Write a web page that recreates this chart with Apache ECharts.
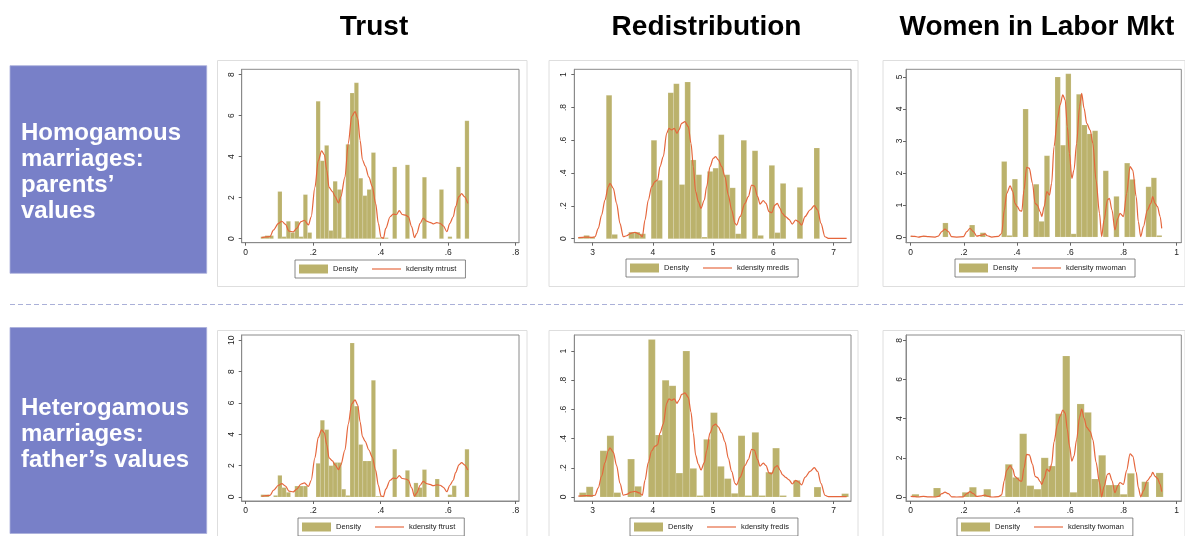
<!DOCTYPE html>
<html><head><meta charset="utf-8">
<script src="https://cdn.jsdelivr.net/npm/echarts@6/dist/echarts.min.js"></script>
<style>html,body{margin:0;padding:0;background:#fff}#c{width:1185px;height:536px}</style>
</head><body><div id="c"></div>
<script>
// ---------------- DATA ----------------
const columnTitles = ['Trust', 'Redistribution', 'Women in Labor Mkt'];
const rowLabels = ['Homogamous\nmarriages:\nparents\u2019\nvalues', 'Heterogamous\nmarriages:\nfather\u2019s values'];

const trustXTicks = [0, 0.2, 0.4, 0.6, 0.8];
const redisXTicks = [3, 4, 5, 6, 7];
const womanXTicks = [0, 0.2, 0.4, 0.6, 0.8, 1];
const mtrustYTicks = [0, 2, 4, 6, 8];
const ftrustYTicks = [0, 2, 4, 6, 8, 10];
const redisYTicks = [0, 0.2, 0.4, 0.6, 0.8, 1];
const mwomanYTicks = [0, 1, 2, 3, 4, 5];
const fwomanYTicks = [0, 2, 4, 6, 8];

// histogram bins: first bin edge, bin width, bar heights (density)
const trustBinStart = 0.0446, trustBinWidth = 0.0126;
const mtrustDensity = [0.1,0.15,0.15,0,2.3,0.1,0.85,0.3,0.85,0.1,2.15,0.3,0,6.7,3.8,4.55,0.4,2.8,2.4,0.05,4.6,7.1,7.6,2.95,2.1,2.4,4.2,0.05,0.05,0.05,0,3.5,0,0,3.6,0,0,0,3.0,0,0,0,2.4,0,0.1,0,3.5,0,5.75];
const ftrustDensity = [0.15,0.15,0,0.1,1.38,0.6,0.3,0,0.7,0.7,0.7,0,0,2.15,4.9,4.3,2.0,2.2,2.2,0.5,0.1,9.83,5.8,3.35,2.3,2.3,7.45,0.05,0.05,0,0,3.05,0,0,1.7,0,0.9,0.6,1.75,0,0,1.15,0,0,0.15,0.72,0,0,3.05];

const mredisBinStart = 2.76, mredisBinWidth = 0.0932;
const mredisDensity = [0.01,0.02,0.01,0,0,0.874,0.026,0,0,0.04,0.04,0.03,0,0.6,0.356,0,0.89,0.945,0.33,0.955,0.48,0.39,0.01,0.41,0.43,0.634,0.39,0.31,0.03,0.6,0,0.536,0.02,0,0.447,0.037,0.337,0,0,0.313,0,0,0.553,0,0,0,0,0];
const fredisBinStart = 2.779, fredisBinWidth = 0.1146;
const fredisDensity = [0.03,0.07,0,0.317,0.42,0.03,0,0.26,0.073,0,1.08,0.425,0.8,0.762,0.164,1.0,0.196,0.01,0.395,0.578,0.21,0.126,0.025,0.42,0.01,0.443,0.01,0.17,0.335,0.01,0,0.114,0,0,0.068,0,0,0,0.023];

const mwomanBinStart = 0, mwomanBinWidth = 0.0201;
const mwomanDensity = [0.03,0,0.03,0,0,0,0.44,0,0,0,0,0.375,0,0.135,0,0,0,2.36,0.05,1.81,0,4.0,0,1.65,0.49,2.54,0,5.0,2.87,5.1,0.1,4.46,3.5,3.22,3.32,0,2.07,0,1.27,0,2.31,1.8,0,0,1.57,1.85,0.05];
const fwomanBinStart = 0.0045, fwomanBinWidth = 0.027;
const fwomanDensity = [0.14,0,0,0.46,0,0,0,0.24,0.5,0,0.4,0,0.03,1.67,1.0,3.23,0.58,0.4,2.0,1.58,4.25,7.2,0.24,4.75,4.32,0.92,2.13,0.61,0.61,0.14,1.21,0,0.78,0,1.23];

// kernel density curves [x, density]
const kdensityTrust = [[0.047,0.05],[0.072,0.1],[0.082,0.42],[0.097,0.75],[0.107,0.85],[0.118,0.7],[0.128,0.37],[0.141,0.33],[0.151,0.5],[0.164,0.83],[0.174,0.9],[0.186,0.67],[0.194,1.07],[0.205,2.5],[0.215,3.8],[0.225,4.28],[0.233,4.1],[0.240,3.35],[0.247,2.5],[0.257,2.3],[0.265,2.05],[0.275,1.75],[0.282,2.05],[0.294,3.0],[0.304,4.65],[0.314,5.95],[0.324,6.2],[0.332,5.87],[0.339,4.8],[0.346,3.85],[0.354,3.55],[0.365,3.0],[0.375,2.55],[0.385,1.72],[0.393,0.75],[0.401,0.07],[0.408,0.02],[0.415,0.5],[0.428,1.07],[0.437,1.2],[0.447,1.18],[0.455,1.37],[0.464,1.18],[0.474,1.15],[0.482,1.07],[0.492,0.58],[0.5,0.05],[0.507,0.26],[0.517,0.75],[0.526,1.0],[0.536,0.86],[0.546,0.8],[0.556,0.72],[0.566,0.78],[0.576,0.75],[0.586,0.62],[0.596,0.34],[0.605,0.75],[0.615,1.07],[0.622,1.56],[0.632,2.05],[0.64,2.2],[0.648,2.05],[0.658,1.72]];
const kdensityRedis = [[2.762,0.006],[2.873,0.01],[2.983,0.008],[3.039,0.012],[3.094,0.063],[3.149,0.144],[3.205,0.236],[3.26,0.317],[3.288,0.337],[3.343,0.307],[3.398,0.215],[3.454,0.093],[3.509,0.012],[3.564,0.018],[3.636,0.033],[3.703,0.039],[3.775,0.028],[3.825,0.012],[3.869,0.114],[3.924,0.236],[3.98,0.317],[4.035,0.348],[4.079,0.358],[4.118,0.439],[4.173,0.5],[4.229,0.642],[4.267,0.673],[4.312,0.663],[4.356,0.673],[4.4,0.642],[4.433,0.663],[4.478,0.703],[4.533,0.713],[4.588,0.683],[4.633,0.581],[4.671,0.439],[4.71,0.287],[4.754,0.226],[4.799,0.185],[4.854,0.236],[4.893,0.317],[4.948,0.439],[5.003,0.49],[5.042,0.5],[5.086,0.48],[5.142,0.439],[5.197,0.378],[5.252,0.266],[5.308,0.175],[5.363,0.093],[5.39,0.083],[5.446,0.134],[5.529,0.215],[5.584,0.256],[5.64,0.327],[5.684,0.321],[5.739,0.256],[5.778,0.211],[5.833,0.232],[5.878,0.215],[5.928,0.165],[5.972,0.159],[6.027,0.205],[6.066,0.215],[6.11,0.185],[6.149,0.154],[6.204,0.134],[6.26,0.118],[6.315,0.089],[6.37,0.114],[6.415,0.104],[6.47,0.083],[6.525,0.134],[6.608,0.175],[6.68,0.201],[6.735,0.175],[6.79,0.093],[6.857,0.012],[6.913,0.002],[7.079,0.002],[7.217,0.002]];
const kdensityWoman = [[0,0.03],[0.016,0.02],[0.029,0.0],[0.048,0.03],[0.067,0.01],[0.092,0.0],[0.104,0.03],[0.117,0.17],[0.129,0.25],[0.142,0.17],[0.154,0.01],[0.173,0.0],[0.198,0.01],[0.211,0.17],[0.223,0.27],[0.236,0.17],[0.248,0.03],[0.267,0.06],[0.28,0.1],[0.288,0.04],[0.305,0.0],[0.33,0.02],[0.342,0.11],[0.352,0.84],[0.361,1.36],[0.374,1.6],[0.384,1.42],[0.392,1.05],[0.401,0.95],[0.411,0.82],[0.418,0.81],[0.426,1.47],[0.436,2.18],[0.446,2.15],[0.458,1.68],[0.468,1.05],[0.476,1.0],[0.487,0.79],[0.493,0.64],[0.502,0.95],[0.512,1.42],[0.522,1.31],[0.53,1.68],[0.539,2.82],[0.552,3.71],[0.562,4.13],[0.572,4.44],[0.581,4.28],[0.589,3.45],[0.597,2.61],[0.606,1.83],[0.614,2.09],[0.624,2.93],[0.635,4.07],[0.643,4.49],[0.652,4.02],[0.662,3.55],[0.675,3.34],[0.685,2.93],[0.697,1.78],[0.71,0.74],[0.718,0.01],[0.727,0.53],[0.74,1.16],[0.747,1.21],[0.757,0.84],[0.768,0.22],[0.779,0.58],[0.787,0.74],[0.8,0.64],[0.812,1.36],[0.825,2.2],[0.835,2.09],[0.848,1.26],[0.856,0.48],[0.865,0.01],[0.875,0.32],[0.89,0.84],[0.903,1.05],[0.91,1.26],[0.919,1.05],[0.928,0.95],[0.938,0.64],[0.944,0.27]];

// ---------------- LAYOUT / STYLE ----------------
const FONT = 'Liberation Sans, Arial, Helvetica, sans-serif';
const BAR = '#bbb26c';
const LINE = '#e5663c';
const AXIS = '#8a8a8a';
const LINE_ICON = 'path://M0,0L100,0L100,4L0,4Z';

function bins(start, w, heights) {
  return heights.map((h, j) => [start + j * w, start + (j + 1) * w, h]);
}
const panels = [
  {hist: bins(trustBinStart, trustBinWidth, mtrustDensity), kd: kdensityTrust, kdName: 'kdensity mtrust', xt: trustXTicks, yt: mtrustYTicks,
   grid: [241.7, 69.3, 277.3, 173.4], xr: [-0.0119, 0.8099], yr: [-0.195, 8.26], lg: [295, 260], ym: 6},
  {hist: bins(mredisBinStart, mredisBinWidth, mredisDensity), kd: kdensityRedis, kdName: 'kdensity mredis', xt: redisXTicks, yt: redisYTicks,
   grid: [574.3, 69.3, 276.7, 173.4], xr: [2.6956, 7.289], yr: [-0.0244, 1.0325], lg: [626, 259], ym: 6},
  {hist: bins(mwomanBinStart, mwomanBinWidth, mwomanDensity), kd: kdensityWoman, kdName: 'kdensity mwoman', xt: womanXTicks, yt: mwomanYTicks,
   grid: [906, 69.3, 275.3, 173.4], xr: [-0.0176, 1.0176], yr: [-0.177, 5.24], lg: [955, 259], ym: 2},
  {hist: bins(trustBinStart, trustBinWidth, ftrustDensity), kd: kdensityTrust, kdName: 'kdensity ftrust', xt: trustXTicks, yt: ftrustYTicks,
   grid: [241.7, 335, 277.3, 166], xr: [-0.0119, 0.8099], yr: [-0.255, 10.34], lg: [298, 518], ym: 6},
  {hist: bins(fredisBinStart, fredisBinWidth, fredisDensity), kd: kdensityRedis, kdName: 'kdensity fredis', xt: redisXTicks, yt: redisYTicks,
   grid: [574.3, 335, 276.7, 166], xr: [2.6956, 7.289], yr: [-0.0274, 1.11], lg: [630, 518], ym: 6},
  {hist: bins(fwomanBinStart, fwomanBinWidth, fwomanDensity), kd: kdensityWoman, kdName: 'kdensity fwoman', xt: womanXTicks, yt: fwomanYTicks,
   grid: [906, 335, 275.3, 166], xr: [-0.0176, 1.0176], yr: [-0.204, 8.27], lg: [957, 518], ym: 2}
];

function fmt(v) {
  if (v === 0) return '0';
  return String(+v.toFixed(3)).replace(/^0\./, '.');
}

const grids = [], xAxes = [], yAxes = [], series = [], legends = [];
panels.forEach((p, i) => {
  grids.push({left: p.grid[0], top: p.grid[1], width: p.grid[2], height: p.grid[3], show: true,
    borderColor: AXIS, borderWidth: 1, backgroundColor: '#fff', containLabel: false});
  xAxes.push({type: 'value', gridIndex: i, min: p.xr[0], max: p.xr[1],
    axisLine: {show: true, onZero: false, lineStyle: {color: AXIS, width: 1}},
    axisTick: {show: true, length: 3, customValues: p.xt, lineStyle: {color: '#666'}},
    axisLabel: {customValues: p.xt, formatter: fmt, fontSize: 8.5, color: '#222', margin: 5, fontFamily: FONT},
    splitLine: {show: false}});
  yAxes.push({type: 'value', gridIndex: i, min: p.yr[0], max: p.yr[1],
    axisLine: {show: true, onZero: false, lineStyle: {color: AXIS, width: 1}},
    axisTick: {show: true, length: 3, customValues: p.yt, lineStyle: {color: '#666'}},
    axisLabel: {customValues: p.yt, formatter: fmt, fontSize: 8.5, color: '#222', margin: p.ym, rotate: 90, fontFamily: FONT},
    splitLine: {show: false}});
  series.push({type: 'custom', name: 'Density', xAxisIndex: i, yAxisIndex: i, data: p.hist,
    encode: {x: [0, 1], y: 2}, itemStyle: {color: BAR}, z: 2, silent: true,
    renderItem: function (params, api) {
      const h = api.value(2);
      if (!(h > 0)) return null;
      const a = api.coord([api.value(0), 0]);
      const b = api.coord([api.value(1), h]);
      return {type: 'rect', shape: {x: a[0], y: b[1], width: b[0] - a[0], height: a[1] - b[1]},
        style: {fill: BAR, stroke: 'rgba(255,255,255,0.35)', lineWidth: 0.4}};
    }});
  series.push({type: 'line', name: p.kdName, xAxisIndex: i, yAxisIndex: i, data: p.kd,
    symbol: 'none', smooth: 0.3, smoothMonotone: 'x', z: 3, silent: true,
    lineStyle: {color: LINE, width: 1.2}, itemStyle: {color: LINE}});
  legends.push({left: p.lg[0], top: p.lg[1], orient: 'horizontal', selectedMode: false,
    data: [{name: 'Density', icon: 'rect'}, {name: p.kdName, icon: LINE_ICON}],
    itemWidth: 29, itemHeight: 9, itemGap: 14, padding: [4.5, 9, 4.5, 4], symbolKeepAspect: true,
    borderColor: '#6a6a6a', borderWidth: 0.8, backgroundColor: '#fff',
    textStyle: {fontSize: 7.5, color: '#222', fontFamily: FONT}});
});

// decorations
const graphics = [];
const titleX = [374, 706.5, 1037];
columnTitles.forEach((t, i) => graphics.push({type: 'text', x: titleX[i], y: 27,
  style: {text: t, font: 'bold 28px ' + FONT, fill: '#000', align: 'center', verticalAlign: 'middle'}}));
const boxes = [[10, 65.7, 196.7, 207.6, 120], [10, 327.5, 196.7, 206, 395]];
boxes.forEach((b, i) => {
  graphics.push({type: 'rect', shape: {x: b[0], y: b[1], width: b[2], height: b[3]},
    style: {fill: '#7880c8', stroke: '#a9aedb', lineWidth: 0.8}});
  graphics.push({type: 'text', x: 21, y: b[4],
    style: {text: rowLabels[i], font: 'bold 24px ' + FONT, fill: '#fff', lineHeight: 26, align: 'left', verticalAlign: 'top'}});
});
const frames = [[217.5, 60.5, 309.5, 226], [549, 60.5, 309, 226], [883, 60.5, 302, 226],
                [217.5, 330.5, 309.5, 210], [549, 330.5, 309, 210], [883, 330.5, 302, 210]];
frames.forEach(f => graphics.push({type: 'rect', shape: {x: f[0], y: f[1], width: f[2], height: f[3]},
  style: {fill: 'none', stroke: '#dedede', lineWidth: 1}, z: -1}));
graphics.push({type: 'line', shape: {x1: 10, y1: 304.5, x2: 1185, y2: 304.5},
  style: {stroke: '#aab0d8', lineWidth: 1.2, lineDash: [5, 3]}});

const chart = echarts.init(document.getElementById('c'), null, {renderer: 'canvas'});
chart.setOption({
  animation: false,
  backgroundColor: '#fff',
  grid: grids, xAxis: xAxes, yAxis: yAxes, series: series, legend: legends,
  graphic: graphics
});
</script>
</body></html>
